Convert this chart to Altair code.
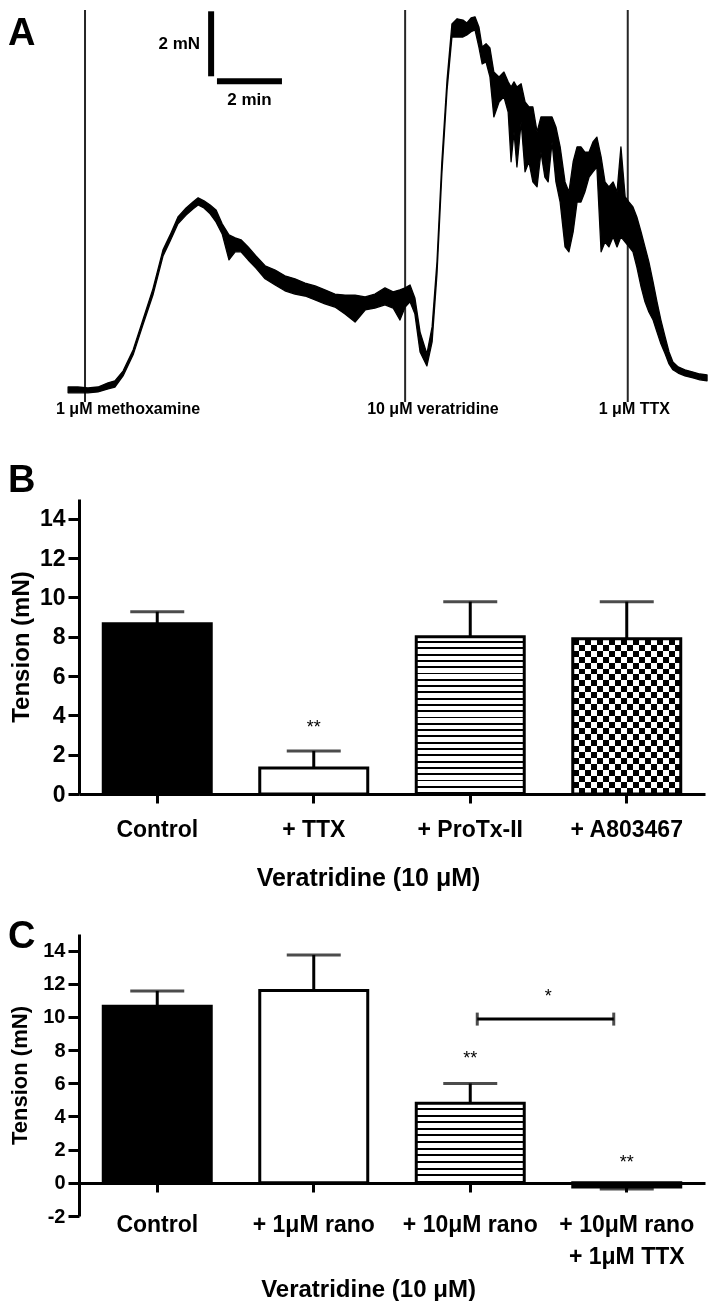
import altair as alt
import pandas as pd

FONT = "Liberation Sans"

# ---------------- Panel A : tension trace (time in min from methoxamine, tension in mN) -------------
trace_t = [-0.52, -0.22, 0.09, 0.40, 0.71, 0.92, 1.17, 1.48, 1.78, 2.09,
           2.40, 2.62, 2.86, 3.11, 3.32, 3.48, 3.66, 3.85, 4.03, 4.22,
           4.43, 4.62, 4.80, 5.02, 5.26, 5.54, 5.85, 6.15, 6.46, 6.77,
           7.08, 7.38, 7.69, 8.00, 8.31, 8.62, 8.92, 9.23, 9.48, 9.69,
           9.85, 10.00, 10.15, 10.31, 10.52, 10.68, 10.83, 10.98, 11.14, 11.29,
           11.45, 11.63, 11.75, 11.88, 12.00, 12.12, 12.22, 12.34, 12.46, 12.58,
           12.74, 12.89, 13.02, 13.11, 13.20, 13.29, 13.42, 13.54, 13.66, 13.78,
           13.91, 14.03, 14.15, 14.25, 14.37, 14.49, 14.62, 14.77, 14.89, 15.02,
           15.14, 15.26, 15.38, 15.51, 15.63, 15.75, 15.88, 16.00, 16.12, 16.25,
           16.37, 16.49, 16.62, 16.74, 16.86, 16.98, 17.11, 17.23, 17.35, 17.48,
           17.60, 17.72, 17.85, 17.97, 18.09, 18.25, 18.46, 18.71, 18.92, 19.14]
trace_hi = [0.09, 0.09, 0.06, 0.09, 0.22, 0.28, 0.58, 1.23, 2.15, 3.11,
            4.31, 4.77, 5.32, 5.60, 5.78, 5.91, 5.82, 5.69, 5.54, 5.11,
            4.77, 4.68, 4.62, 4.40, 4.12, 3.82, 3.69, 3.51, 3.42, 3.29,
            3.20, 3.08, 2.95, 2.92, 2.92, 2.86, 2.95, 3.14, 3.02, 3.08,
            3.14, 3.23, 2.83, 1.78, 1.11, 1.94, 3.94, 7.02, 9.54, 11.26,
            11.42, 11.38, 11.29, 11.45, 11.48, 11.17, 10.55, 10.65, 10.52, 9.78,
            9.63, 9.78, 9.48, 9.32, 9.48, 9.32, 9.42, 8.86, 8.71, 8.71,
            7.94, 8.40, 8.40, 8.40, 8.40, 8.09, 7.48, 6.40, 6.09, 7.02,
            7.48, 7.48, 7.32, 7.32, 7.63, 7.78, 7.17, 6.40, 6.25, 6.40,
            6.09, 7.48, 5.94, 5.78, 5.63, 5.32, 4.86, 4.40, 3.94, 3.32,
            2.71, 2.15, 1.63, 1.17, 0.86, 0.71, 0.62, 0.55, 0.49, 0.46]
trace_lo = [-0.09, -0.09, -0.09, -0.06, 0.03, 0.09, 0.43, 1.08, 2.00, 2.92,
            4.12, 4.58, 5.11, 5.38, 5.57, 5.69, 5.60, 5.42, 5.17, 4.80,
            4.00, 4.25, 4.25, 4.00, 3.75, 3.42, 3.23, 3.05, 2.95, 2.89,
            2.77, 2.65, 2.55, 2.34, 2.09, 2.46, 2.52, 2.62, 2.52, 2.15,
            2.55, 2.71, 2.34, 1.17, 0.74, 1.48, 3.57, 6.65, 9.23, 10.86,
            10.86, 10.86, 10.92, 11.02, 11.08, 10.55, 10.03, 10.09, 9.63, 8.40,
            8.86, 9.02, 8.55, 7.02, 7.94, 6.86, 8.25, 6.71, 7.02, 6.40,
            6.25, 7.32, 6.55, 6.40, 7.63, 6.40, 5.78, 4.40, 4.25, 4.86,
            5.78, 5.78, 6.09, 6.55, 6.71, 6.86, 4.25, 4.55, 4.40, 4.71,
            4.40, 4.71, 4.55, 4.40, 4.25, 3.78, 3.17, 2.71, 2.40, 2.15,
            1.78, 1.42, 1.11, 0.80, 0.62, 0.52, 0.43, 0.37, 0.31, 0.28]
drug_t = [0.0, 9.85, 16.7]
drug_names = ["1 μM methoxamine", "10 μM veratridine", "1 μM TTX"]
calib_t = [3.88]            # vertical calibration bar position (min)
calib_mN = [9.65, 11.65]    # 2 mN
calib_min = [4.06, 6.06]    # 2 min
calib_min_v = [9.5]

# ---------------- Panel B -------------
b_cats = ["Control", "+ TTX", "+ ProTx-II", "+ A803467"]
b_mean = [8.66, 1.32, 8.0, 7.9]
b_sem = [0.61, 0.87, 1.78, 1.88]
b_kind = ["solid", "open", "hstripe", "checker"]
b_star_cat = ["+ TTX"]
b_star_y = [3.08]
b_star_txt = ["**"]

# ---------------- Panel C -------------
c_cats = ["Control", "+ 1μM rano", "+ 10μM rano", "+ 10μM rano|+ 1μM TTX"]
c_mean = [10.64, 11.59, 4.79, -0.25]
c_sem = [0.93, 2.15, 1.20, 0.12]
c_kind = ["solid", "open", "hstripe", "solid"]
c_star_cat = ["+ 10μM rano", "+ 10μM rano|+ 1μM TTX"]
c_star_y = [7.16, 0.88]
c_star_txt = ["**", "**"]
c_bracket_y = [9.87]
c_bracket_star_y = [10.92]


def stripes(n, dark, horizontal):
    stops = []
    for i in range(n):
        a = round(i / n, 5)
        b = round((i + 1 - dark) / n, 5)
        c = round((i + 1) / n, 5)
        stops += [{"offset": a, "color": "white"}, {"offset": b, "color": "white"},
                  {"offset": b, "color": "black"}, {"offset": c, "color": "black"}]
    if horizontal:
        return {"gradient": "linear", "x1": 0, "y1": 0, "x2": 0, "y2": 1, "stops": stops}
    return {"gradient": "linear", "x1": 0, "y1": 0, "x2": 1, "y2": 0, "stops": stops}


def panel_letter(letter, x, y):
    return alt.Chart(pd.DataFrame({"panel": [letter]})).mark_text(
        align="left", baseline="top", fontSize=38, fontWeight="bold", color="black").encode(
        x=alt.value(x), y=alt.value(y), text="panel:N")


# ---------------- build panel A -------------
A_TOP, A_BOTTOM = 11.69, -1.356
xA = alt.Scale(domain=[-0.185, 19.2], nice=False, zero=False)
yA = alt.Scale(domain=[A_BOTTOM, A_TOP], nice=False, zero=False)
trace_df = pd.DataFrame({"t": trace_t, "hi": trace_hi, "lo": trace_lo})
drug_df = pd.DataFrame({"t": drug_t, "name": drug_names})
cv_df = pd.DataFrame({"t": calib_t, "v1": [calib_mN[0]], "v2": [calib_mN[1]]})
ch_df = pd.DataFrame({"t1": [calib_min[0]], "t2": [calib_min[1]], "v": calib_min_v})


def XA(f):
    return alt.X(f, type="quantitative", scale=xA, axis=None)


def YA(f):
    return alt.Y(f, type="quantitative", scale=yA, axis=None)


dlines = alt.Chart(drug_df).mark_rule(color="#262626", strokeWidth=2).encode(
    x=XA("t"),
    y=alt.YDatum(datum=A_TOP, type="quantitative", scale=yA, axis=None),
    y2=alt.Y2Datum(datum=-0.37))
trace = alt.Chart(trace_df).mark_area(color="black", stroke="black", strokeWidth=1.3,
                                      strokeJoin="round").encode(x=XA("t"), y=YA("hi"), y2="lo:Q")


def drug_label(names, dx):
    return alt.Chart(drug_df).transform_filter(
        alt.FieldOneOfPredicate(field="name", oneOf=names)).mark_text(
        align="left", baseline="middle", dx=dx, fontSize=16, fontWeight="bold", color="black").encode(
        x=XA("t"), y=alt.YDatum(datum=-0.58, type="quantitative", scale=yA, axis=None), text="name:N")


dlab1 = drug_label([drug_names[0], drug_names[2]], -29)
dlab2 = drug_label([drug_names[1]], -38)
cv = alt.Chart(cv_df).mark_rule(color="black", strokeWidth=6).encode(x=XA("t"), y=YA("v1"), y2="v2:Q")
ch = alt.Chart(ch_df).mark_rule(color="black", strokeWidth=6).encode(x=XA("t1"), x2="t2:Q", y=YA("v"))
cv_lab = alt.Chart(cv_df).transform_calculate(mid="(datum.v1 + datum.v2) / 2", txt="'2 mN'").mark_text(
    align="right", baseline="middle", dx=-11, fontSize=17, fontWeight="bold", color="black").encode(
    x=XA("t"), y=YA("mid"), text="txt:N")
ch_lab = alt.Chart(ch_df).transform_calculate(mid="(datum.t1 + datum.t2) / 2", txt="'2 min'").mark_text(
    align="center", baseline="middle", dy=19, fontSize=17, fontWeight="bold", color="black").encode(
    x=XA("mid"), y=YA("v"), text="txt:N")

panelA = alt.layer(dlines, trace, dlab1, dlab2, cv, ch, cv_lab, ch_lab,
                   panel_letter("A", -71, 5)).properties(width=630, height=424)


# ---------------- bar panels -------------
def bar_panel(cats, mean, sem, kind, ydom, yvals, n_stripe, n_check,
              ylab_fs, ytitle_fs, ytitle_pad, xoffset, xlab_pad, xtitle_pad, xtitle_fs,
              star_cat, star_y, star_txt):
    df = pd.DataFrame({"cat": cats, "mean": mean, "sem": sem, "kind": kind})
    df["end"] = [m + s if m >= 0 else m - s for m, s in zip(mean, sem)]
    xs = alt.Scale(domain=cats, paddingInner=0.31, paddingOuter=0.155)
    ys = alt.Scale(domain=ydom, nice=False, zero=False)
    xaxis = alt.Axis(title="Veratridine (10 μM)", labelAngle=0, tickSize=9, labelPadding=xlab_pad,
                     titlePadding=xtitle_pad, labelFontSize=23, titleFontSize=xtitle_fs,
                     offset=xoffset, titleX=289,
                     labelExpr="split(datum.label, '|')", labelLineHeight=32)
    yaxis = alt.Axis(title="Tension (mN)", values=yvals, tickSize=11, labelPadding=3,
                     titlePadding=ytitle_pad, labelFontSize=ylab_fs, titleFontSize=ytitle_fs,
                     labelExpr="'' + datum.value")

    def X(f="cat"):
        return alt.X(f, type="nominal", scale=xs, axis=xaxis, sort=cats)

    def Y(f):
        return alt.Y(f, type="quantitative", scale=ys, axis=yaxis)

    base = alt.Chart(df)

    def bars(k, **kw):
        return base.transform_filter(alt.datum.kind == k).mark_bar(**kw).encode(x=X(), y=Y("mean"))

    layers = [bars("solid", fill="black", stroke="black", strokeWidth=3),
              bars("open", fill="white", stroke="black", strokeWidth=3),
              bars("hstripe", fill=stripes(n_stripe, 0.3, True), stroke="black", strokeWidth=3)]
    if n_check:
        layers += [bars("checker", fill=stripes(n_check[0], 0.5, False)),
                   bars("checker", fill=stripes(n_check[1], 0.5, True), blend="difference"),
                   bars("checker", fill="white", fillOpacity=0, stroke="black", strokeWidth=3)]
    layers.append(base.mark_rule(color="black", strokeWidth=3).encode(x=X(), y=Y("mean"), y2="end:Q"))
    layers.append(base.mark_tick(color="black", size=54, thickness=3, orient="horizontal").encode(
        x=X(), y=Y("end")))
    sdf = pd.DataFrame({"cat": star_cat, "y": star_y, "txt": star_txt})
    layers.append(alt.Chart(sdf).mark_text(fontSize=18, baseline="alphabetic", color="black",
                                           fontWeight="normal").encode(x=X(), y=Y("y"), text="txt:N"))
    return layers, X, Y


b_layers, bX, bY = bar_panel(
    b_cats, b_mean, b_sem, b_kind, [0, 15], list(range(0, 15, 2)), 25, (9, 13),
    23, 24, 6, 0, 15, 24, 25, b_star_cat, b_star_y, b_star_txt)
panelB = alt.layer(*b_layers, panel_letter("B", -71, -37)).properties(width=626, height=295)

c_layers, cX, cY = bar_panel(
    c_cats, c_mean, c_sem, c_kind, [-2, 15], list(range(-2, 15, 2)), 12, None,
    20, 22, 11, -33, 21, 9, 24, c_star_cat, c_star_y, c_star_txt)
br_df = pd.DataFrame({"a": [c_cats[2]], "b": [c_cats[3]], "y": c_bracket_y,
                      "sy": c_bracket_star_y, "txt": ["*"]})
br_rule = alt.Chart(br_df).mark_rule(color="black", strokeWidth=3, xOffset=7, x2Offset=-13).encode(
    x=cX("a"), x2="b:N", y=cY("y"))
br_end1 = alt.Chart(br_df).mark_tick(color="black", orient="vertical", size=13, thickness=3,
                                     xOffset=7).encode(x=cX("a"), y=cY("y"))
br_end2 = alt.Chart(br_df).mark_tick(color="black", orient="vertical", size=13, thickness=3,
                                     xOffset=-13).encode(x=cX("b"), y=cY("y"))
br_star = alt.Chart(br_df).mark_text(fontSize=18, baseline="alphabetic", color="black",
                                     xOffset=78).encode(x=cX("a"), y=cY("sy"), text="txt:N")
panelC = alt.layer(*c_layers, br_rule, br_end1, br_end2, br_star,
                   panel_letter("C", -71, -16)).properties(width=626, height=282)

chart = alt.vconcat(panelA, panelB, panelC, spacing=28).properties(padding=0, background="white")
chart = chart.configure(font=FONT).configure_view(stroke=None).configure_axis(
    domainColor="black", tickColor="black", labelColor="black", titleColor="black",
    domainWidth=3, tickWidth=3, grid=False, labelFontWeight="bold", titleFontWeight="bold",
    labelFont=FONT, titleFont=FONT)

chart.save("out.html", embed_options={"renderer": "svg", "actions": False})
